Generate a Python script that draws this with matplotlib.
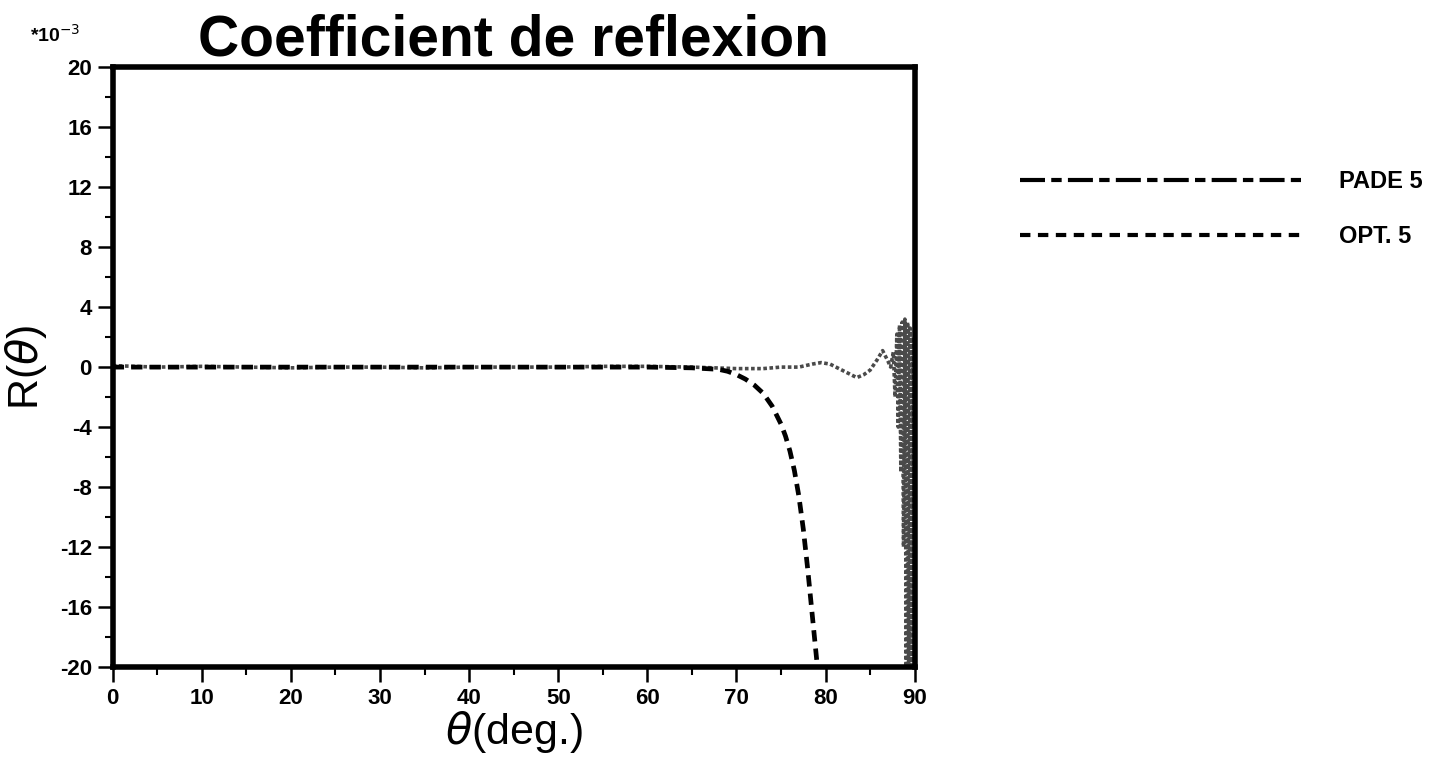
import numpy as np
import matplotlib.pyplot as plt
from matplotlib.lines import Line2D

plt.rcParams['font.family'] = ['Liberation Sans', 'DejaVu Sans']
plt.rcParams['mathtext.fontset'] = 'dejavusans'
plt.rcParams['axes.unicode_minus'] = False

# PADE 5 (values in units of 1e-3)
theta_pade = [0, 5, 10, 15, 20, 25, 30, 35, 40, 45, 50, 55, 60, 65, 70, 73, 75,
              77, 78.5, 79.5, 80.5, 81.5, 82.5, 83.5, 84.3, 85.0, 85.8, 86.4, 87.0,
              87.3, 87.6, 87.8, 88.0, 88.15, 88.3, 88.45, 88.6, 88.75, 88.9, 89.05,
              89.2, 89.35, 89.5, 89.65, 89.8, 89.95]
r_pade = [0.1, 0.0, 0.05, 0.0, -0.05, 0.0, 0.0, -0.05, 0.0, 0.0, 0.0, 0.05, 0.05, 0.0, -0.1, -0.1, 0.0,
          0.0, 0.2, 0.3, 0.2, -0.1, -0.4, -0.7, -0.5, -0.2, 0.5, 1.1, 0.4,
          0.0, 1.0, -2.0, 2.2, -4.0, 2.8, -7.0, 3.0, -12.0, 3.2, -20.0,
          3.0, -28.0, 2.6, -35.0, 2.0, -45.0]

# OPT. 5
theta_opt = [0, 10, 20, 30, 40, 50, 60, 65, 68, 69, 70, 71, 72, 73, 74, 75, 75.5,
             76, 76.5, 77, 77.5, 78, 78.5, 79, 79.5]
r_opt = [0.0, 0.0, 0.0, 0.0, 0.0, 0.0, 0.0, -0.05, -0.15, -0.28, -0.5, -0.8, -1.2, -1.75,
         -2.6, -3.8, -4.6, -5.6, -6.9, -8.6, -10.8, -13.5, -16.5, -19.5, -23.0]

fig = plt.figure(figsize=(14.45, 7.64), dpi=100)
ax = fig.add_axes([0.078, 0.127, 0.555, 0.785])

ax.plot(theta_pade, r_pade, color='#4a4a4a', lw=2.6,
        linestyle=(0, (1.0, 0.7)))
ax.plot(theta_opt, r_opt, color='black', lw=3.4,
        linestyle=(0, (2.4, 1.5)))

ax.set_xlim(0, 90)
ax.set_ylim(-20, 20)
ax.set_xticks(np.arange(0, 91, 10))
ax.set_xticks(np.arange(5, 90, 10), minor=True)
ax.set_yticks(np.arange(-20, 21, 4))
ax.set_yticks(np.arange(-18, 20, 4), minor=True)

for s in ax.spines.values():
    s.set_linewidth(4)

ax.tick_params(which='major', direction='out', length=11, width=1.8,
               labelsize=16, top=False, right=False, pad=4)
ax.tick_params(which='minor', direction='out', length=6, width=1.5,
               top=False, right=False)
for lab in ax.get_xticklabels() + ax.get_yticklabels():
    lab.set_fontweight('bold')

ax.set_xlabel(r'$\theta$(deg.)', fontsize=31, labelpad=0)
ax.set_ylabel(r'R($\theta$)', fontsize=31, labelpad=8)
ax.set_title('Coefficient de reflexion', fontsize=41, fontweight='bold', pad=8)

fig.text(0.021, 0.945, r'*10$^{-3}$', fontsize=14, fontweight='bold')

# legend keys
h1 = Line2D([], [], color='black', lw=3.0, linestyle=(0, (6, 1.5, 2.5, 1.5)))
h2 = Line2D([], [], color='black', lw=3.0, linestyle=(0, (2.5, 1.8)))
fig.legend(handles=[h1, h2], labels=['PADE 5', 'OPT. 5'], loc='upper left',
           bbox_to_anchor=(1020 / 1445, 1 - 170 / 764), frameon=False,
           borderpad=0, borderaxespad=0,
           handlelength=11.9, handletextpad=1.6,
           labelspacing=1.35, prop={'size': 17, 'weight': 'bold'})

fig.savefig('out.png', dpi=100)
